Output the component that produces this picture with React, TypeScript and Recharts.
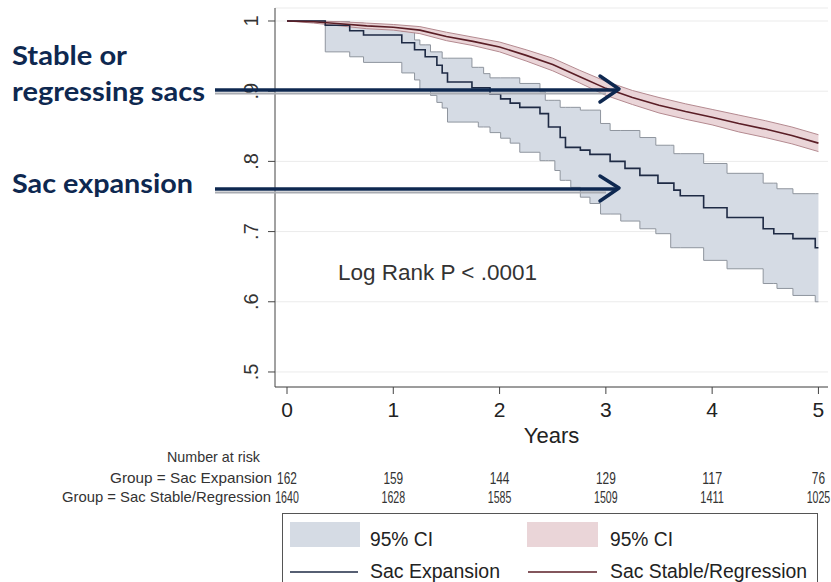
import React from 'react';
import { ComposedChart, Area, Line, XAxis, YAxis, CartesianGrid } from 'recharts';

// Sac expansion group: KM step points (years, survival, 95% CI)
const expTimes = [0, 0.36, 0.59, 0.72, 1.08, 1.2, 1.25, 1.3, 1.35, 1.41, 1.46, 1.51, 1.74, 1.8, 1.85, 1.91, 2.01, 2.1, 2.19, 2.38, 2.43, 2.46, 2.52, 2.57, 2.62, 2.67, 2.76, 2.85, 2.95, 3.04, 3.14, 3.18, 3.32, 3.47, 3.49, 3.61, 3.64, 3.7, 3.92, 4.14, 4.48, 4.58, 4.61, 4.76, 4.97, 5.0];
const expSurv = [1, 0.994, 0.986, 0.98, 0.969, 0.959, 0.959, 0.949, 0.949, 0.937, 0.926, 0.913, 0.905, 0.905, 0.905, 0.896, 0.889, 0.883, 0.877, 0.868, 0.868, 0.849, 0.849, 0.834, 0.82, 0.82, 0.816, 0.81, 0.81, 0.8, 0.8, 0.79, 0.78, 0.78, 0.769, 0.769, 0.759, 0.751, 0.734, 0.72, 0.704, 0.697, 0.697, 0.69, 0.677, 0.677];
const expLower = [1, 0.956, 0.949, 0.941, 0.926, 0.916, 0.901, 0.901, 0.894, 0.884, 0.876, 0.856, 0.856, 0.849, 0.849, 0.841, 0.833, 0.826, 0.813, 0.801, 0.801, 0.801, 0.787, 0.773, 0.773, 0.763, 0.749, 0.74, 0.725, 0.725, 0.715, 0.715, 0.704, 0.697, 0.697, 0.677, 0.677, 0.677, 0.659, 0.647, 0.626, 0.626, 0.619, 0.609, 0.6, 0.6];
const expUpper = [1, 0.999, 0.997, 0.991, 0.985, 0.973, 0.966, 0.966, 0.956, 0.956, 0.947, 0.947, 0.934, 0.934, 0.925, 0.919, 0.919, 0.919, 0.911, 0.899, 0.887, 0.887, 0.887, 0.877, 0.877, 0.877, 0.873, 0.873, 0.854, 0.844, 0.844, 0.844, 0.834, 0.823, 0.823, 0.823, 0.811, 0.811, 0.797, 0.783, 0.769, 0.769, 0.761, 0.754, 0.754, 0.754];

// Sac stable/regression group
const stbTimes = [0, 0.25, 0.5, 0.75, 1, 1.25, 1.5, 1.75, 2, 2.25, 2.5, 2.75, 3, 3.25, 3.5, 3.75, 4, 4.25, 4.5, 4.75, 5];
const stbSurv = [1, 0.999, 0.996, 0.993, 0.991, 0.987, 0.978, 0.971, 0.963, 0.951, 0.938, 0.921, 0.904, 0.891, 0.88, 0.871, 0.863, 0.854, 0.846, 0.837, 0.826];
const stbLower = [1, 0.997, 0.993, 0.989, 0.987, 0.982, 0.972, 0.965, 0.956, 0.943, 0.929, 0.912, 0.894, 0.881, 0.869, 0.86, 0.852, 0.842, 0.834, 0.825, 0.814];
const stbUpper = [1, 1, 0.999, 0.997, 0.995, 0.992, 0.984, 0.977, 0.97, 0.959, 0.947, 0.93, 0.914, 0.901, 0.891, 0.882, 0.874, 0.866, 0.858, 0.849, 0.838];

const riskTimes = [0, 1, 2, 3, 4, 5];
const riskExpansion = [162, 159, 144, 129, 117, 76];
const riskStable = [1640, 1628, 1585, 1509, 1411, 1025];

const yTicks = [0.5, 0.6, 0.7, 0.8, 0.9, 1];

const expData = expTimes.map((t, i) => ({ t, s: expSurv[i], ci: [expLower[i], expUpper[i]] }));
const stbData = stbTimes.map((t, i) => ({ t, s: stbSurv[i], ci: [stbLower[i], stbUpper[i]] }));

const axisFont = "'Liberation Sans', Arial, sans-serif";
const noteFont = "Lato, 'Open Sans', sans-serif";
const navy = '#0e2850';

const YTick = (props: any) => {
  const { x, y, payload } = props;
  const v = payload.value;
  const label = v === 1 ? '1' : String(v).replace(/^0/, '');
  const bx = x - 8;
  return (
    <text x={bx} y={y} transform={`rotate(-90 ${bx} ${y})`} textAnchor="middle" fontSize={20} fill="#333" fontFamily={axisFont}>
      {label}
    </text>
  );
};

// x tick: year label plus the number-at-risk counts under it
const XTick = (props: any) => {
  const { x, y, payload } = props;
  const idx = riskTimes.indexOf(payload.value);
  const n1 = String(riskExpansion[idx]);
  const n2 = String(riskStable[idx]);
  return (
    <g>
      <text x={x} y={y} dy="0.71em" textAnchor="middle" fontSize={21} fill="#222" fontFamily={axisFont}>
        {payload.value}
      </text>
      <text x={x} y={y + 76} dy="0.35em" textAnchor="middle" fontSize={16} fill="#333" fontFamily={axisFont}
        textLength={n1.length * 6.6} lengthAdjust="spacingAndGlyphs">{n1}</text>
      <text x={x} y={y + 95} dy="0.35em" textAnchor="middle" fontSize={16} fill="#333" fontFamily={axisFont}
        textLength={n2.length * 5.9} lengthAdjust="spacingAndGlyphs">{n2}</text>
    </g>
  );
};

export default function App() {
  return (
    <div style={{ position: 'absolute', left: 0, top: 0, width: 831, height: 582, background: '#fff', overflow: 'hidden' }}>
      <ComposedChart width={831} height={506} margin={{ top: 8, right: 3, left: 0, bottom: 39 }}>
        <CartesianGrid vertical={false} stroke="#ebebeb" />
        <XAxis
          dataKey="t"
          type="number"
          domain={[-0.113, 5.09]}
          allowDataOverflow
          ticks={riskTimes}
          height={80}
          tickSize={7}
          tickMargin={8}
          stroke="#444"
          tick={(p: any) => <XTick {...p} />}
          label={{ value: 'Years', position: 'insideBottom', offset: 24, fontSize: 22, fill: '#222', fontFamily: axisFont }}
        />
        <YAxis
          type="number"
          domain={[0.4786, 1.0185]}
          allowDataOverflow
          ticks={yTicks}
          width={275}
          tickSize={7}
          stroke="#444"
          tick={(p: any) => <YTick {...p} />}
        />
        <Area data={expData} dataKey="ci" type="stepAfter" fill="#d5dbe4" fillOpacity={1} stroke="#8f959e" strokeWidth={1} isAnimationActive={false} />
        <Area data={stbData} dataKey="ci" type="linear" fill="#ead5d8" fillOpacity={1} stroke="#b48a90" strokeWidth={1} isAnimationActive={false} />
        <Line data={expData} dataKey="s" type="stepAfter" stroke="#1e2a44" strokeWidth={1.6} dot={false} isAnimationActive={false} />
        <Line data={stbData} dataKey="s" type="linear" stroke="#5a1e26" strokeWidth={1.6} dot={false} isAnimationActive={false} />
      </ComposedChart>

      <svg width={831} height={582} style={{ position: 'absolute', left: 0, top: 0, pointerEvents: 'none' }}>
        <text x={338} y={280} fontSize={22} fill="#333" fontFamily={axisFont} textLength={199} lengthAdjust="spacingAndGlyphs">
          Log Rank P &lt; .0001
        </text>

        <text x={12} y={65} fontSize={27} fontWeight={700} fill={navy} fontFamily={noteFont} textLength={115} lengthAdjust="spacingAndGlyphs">Stable or</text>
        <text x={12} y={101} fontSize={27} fontWeight={700} fill={navy} fontFamily={noteFont} textLength={193} lengthAdjust="spacingAndGlyphs">regressing sacs</text>
        <text x={12} y={193} fontSize={27} fontWeight={700} fill={navy} fontFamily={noteFont} textLength={181} lengthAdjust="spacingAndGlyphs">Sac expansion</text>

        <line x1={215} y1={93.5} x2={606} y2={93.5} stroke="#a9acb2" strokeWidth={2} />
        <line x1={215} y1={90} x2={618} y2={90} stroke={navy} strokeWidth={3.5} />
        <polyline points="600,76 619,89 600,102" fill="none" stroke={navy} strokeWidth={3.5} strokeLinecap="round" strokeLinejoin="round" />
        <line x1={215} y1={192.5} x2={606} y2={192.5} stroke="#a9acb2" strokeWidth={2} />
        <line x1={215} y1={189} x2={618} y2={189} stroke={navy} strokeWidth={3.5} />
        <polyline points="600,176 619,188 600,201" fill="none" stroke={navy} strokeWidth={3.5} strokeLinecap="round" strokeLinejoin="round" />

        <text x={260} y={457} dy="0.35em" textAnchor="end" fontSize={15} fill="#333" fontFamily={axisFont} textLength={93} lengthAdjust="spacingAndGlyphs">Number at risk</text>
        <text x={272} y={478} dy="0.35em" textAnchor="end" fontSize={15} fill="#333" fontFamily={axisFont} textLength={162} lengthAdjust="spacingAndGlyphs">Group = Sac Expansion</text>
        <text x={271} y={497} dy="0.35em" textAnchor="end" fontSize={15} fill="#333" fontFamily={axisFont} textLength={209} lengthAdjust="spacingAndGlyphs">Group = Sac Stable/Regression</text>

        <rect x={282.5} y={513.5} width={535} height={80} fill="#fff" stroke="#555" strokeWidth={1} />
        <rect x={290} y={522} width={70} height={25} fill="#d5dbe4" />
        <text x={370} y={546} fontSize={20} fill="#222" fontFamily={axisFont} textLength={63} lengthAdjust="spacingAndGlyphs">95% CI</text>
        <rect x={527} y={522} width={71} height={25} fill="#ead5d8" />
        <text x={610} y={546} fontSize={20} fill="#222" fontFamily={axisFont} textLength={63} lengthAdjust="spacingAndGlyphs">95% CI</text>
        <line x1={290} y1={572} x2={358} y2={572} stroke="#1e2a44" strokeWidth={1.6} />
        <text x={370} y={578} fontSize={20} fill="#222" fontFamily={axisFont} textLength={130} lengthAdjust="spacingAndGlyphs">Sac Expansion</text>
        <line x1={528} y1={572} x2={597} y2={572} stroke="#5a1e26" strokeWidth={1.6} />
        <text x={610} y={578} fontSize={20} fill="#222" fontFamily={axisFont} textLength={197} lengthAdjust="spacingAndGlyphs">Sac Stable/Regression</text>
      </svg>
    </div>
  );
}
